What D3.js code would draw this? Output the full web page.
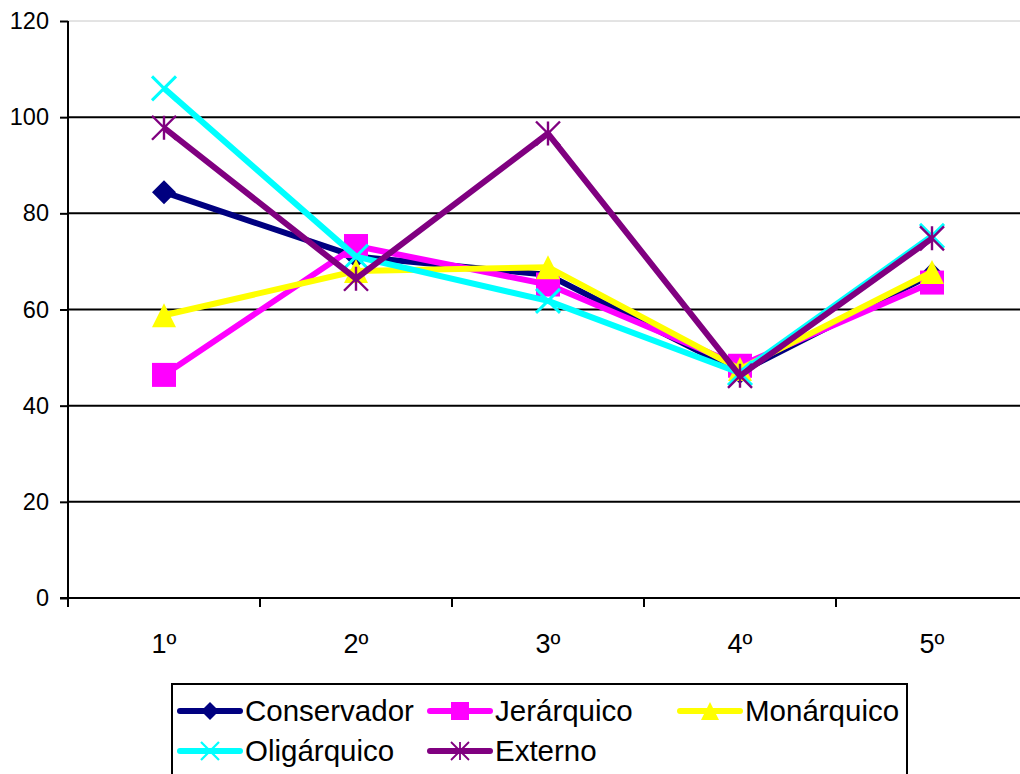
<!DOCTYPE html>
<html>
<head>
<meta charset="utf-8">
<script src="https://cdn.jsdelivr.net/npm/d3@7"></script>
<style>
  html, body { margin: 0; padding: 0; background: #fff; }
  svg { display: block; font-family: "Liberation Sans", Arial, sans-serif; }
</style>
</head>
<body>
<svg id="chart" width="1020" height="774"></svg>
<script>
// Categories and series values
const categories = ["1º", "2º", "3º", "4º", "5º"];
const conservador = [84.4, 71.0, 67.2, 47.0, 67.3];
const jerarquico  = [46.4, 73.2, 65.2, 48.3, 65.6];
const monarquico  = [58.8, 68.0, 68.8, 47.6, 67.8];
const oligarquico = [106.0, 71.0, 61.8, 46.8, 75.3];
const externo     = [97.8, 66.4, 96.6, 46.2, 74.8];
const yTicks = [0, 20, 40, 60, 80, 100, 120];

const series = [
  { name: "Conservador", values: conservador, color: "#000080", marker: "diamond" },
  { name: "Jerárquico",  values: jerarquico,  color: "#FF00FF", marker: "square" },
  { name: "Monárquico",  values: monarquico,  color: "#FFFF00", marker: "triangle" },
  { name: "Oligárquico", values: oligarquico, color: "#00FFFF", marker: "x" },
  { name: "Externo",     values: externo,     color: "#800080", marker: "star" }
];

const svg = d3.select("#chart");
const plotLeft = 68, plotRight = 1028, plotTop = 21, plotBottom = 598;

const x = d3.scaleBand().domain(categories).range([plotLeft, plotRight]);
const y = d3.scaleLinear().domain([0, 120]).range([plotBottom, plotTop]);

// Horizontal gridlines
svg.append("g").selectAll("line")
  .data(yTicks.filter(d => d > 0))
  .join("line")
  .attr("x1", plotLeft).attr("x2", 1020)
  .attr("y1", d => y(d)).attr("y2", d => y(d))
  .attr("stroke", d => d === 120 ? "#c8c8c8" : "#000")
  .attr("stroke-width", d => d === 120 ? 1 : 2);

// Y axis
const yAxis = svg.append("g")
  .attr("transform", `translate(${plotLeft},0)`)
  .call(d3.axisLeft(y).tickValues(yTicks).tickSize(8).tickPadding(11));
yAxis.select(".domain").attr("stroke", "#000").attr("stroke-width", 2)
  .attr("d", `M0,${plotTop}V${plotBottom + 8}`);
yAxis.selectAll(".tick line").attr("stroke", "#000").attr("stroke-width", 2);
yAxis.selectAll(".tick text").attr("font-size", 23.5).attr("fill", "#000")
  .attr("font-family", "Liberation Sans, Arial, sans-serif");

// X axis with ticks between categories
const xAxis = svg.append("g")
  .attr("transform", `translate(0,${plotBottom})`);
xAxis.append("line").attr("x1", plotLeft - 8).attr("x2", 1020)
  .attr("y1", 0).attr("y2", 0).attr("stroke", "#000").attr("stroke-width", 2);
const boundaries = categories.map(c => x(c)).concat([plotRight]);
xAxis.selectAll("line.tk").data(boundaries.filter(b => b <= 1020))
  .join("line").attr("class", "tk")
  .attr("x1", d => d).attr("x2", d => d).attr("y1", 0).attr("y2", 9)
  .attr("stroke", "#000").attr("stroke-width", 2);
xAxis.selectAll("text").data(categories).join("text")
  .attr("x", d => x(d) + x.bandwidth() / 2)
  .attr("y", 55)
  .attr("text-anchor", "middle")
  .attr("font-size", 27)
  .text(d => d);

const cx = (i) => x(categories[i]) + x.bandwidth() / 2;

function drawMarker(g, type, color, s) {
  const h = s / 2;
  if (type === "diamond") {
    g.append("path").attr("d", `M0,${-h}L${h},0L0,${h}L${-h},0Z`).attr("fill", color);
  } else if (type === "square") {
    g.append("rect").attr("x", -h).attr("y", -h).attr("width", s).attr("height", s).attr("fill", color);
  } else if (type === "triangle") {
    g.append("path").attr("d", `M0,${-h}L${h},${h}L${-h},${h}Z`).attr("fill", color);
  } else if (type === "x") {
    g.append("path").attr("d", `M${-h},${-h}L${h},${h}M${h},${-h}L${-h},${h}`)
      .attr("stroke", color).attr("stroke-width", s / 8).attr("fill", "none");
  } else if (type === "star") {
    g.append("path").attr("d", `M${-h},${-h}L${h},${h}M${h},${-h}L${-h},${h}M0,${-h}L0,${h}`)
      .attr("stroke", color).attr("stroke-width", s / 10).attr("fill", "none");
  }
}

const line = d3.line().x((d, i) => cx(i)).y(d => y(d));

series.forEach(s => {
  svg.append("path")
    .datum(s.values)
    .attr("d", line)
    .attr("fill", "none")
    .attr("stroke", s.color)
    .attr("stroke-width", 6)
    .attr("stroke-linejoin", "round");
  s.values.forEach((v, i) => {
    const g = svg.append("g").attr("transform", `translate(${cx(i)},${y(v)})`);
    drawMarker(g, s.marker, s.color, 24);
  });
});

// Legend
const legend = svg.append("g");
legend.append("rect")
  .attr("x", 172).attr("y", 684).attr("width", 735).attr("height", 100)
  .attr("fill", "#fff").attr("stroke", "#000").attr("stroke-width", 2);

const legendPos = [
  { x: 180, y: 711 }, { x: 430, y: 711 }, { x: 680, y: 711 },
  { x: 180, y: 751 }, { x: 430, y: 751 }
];
series.forEach((s, i) => {
  const p = legendPos[i];
  const g = legend.append("g").attr("transform", `translate(${p.x},${p.y})`);
  g.append("line").attr("x1", 0).attr("x2", 60).attr("y1", 0).attr("y2", 0)
    .attr("stroke", s.color).attr("stroke-width", 6).attr("stroke-linecap", "round");
  const m = g.append("g").attr("transform", "translate(30,0)");
  drawMarker(m, s.marker, s.color, 18);
  g.append("text").attr("x", 65).attr("y", 10)
    .attr("font-size", 29.5).attr("fill", "#000").text(s.name);
});
</script>
</body>
</html>
